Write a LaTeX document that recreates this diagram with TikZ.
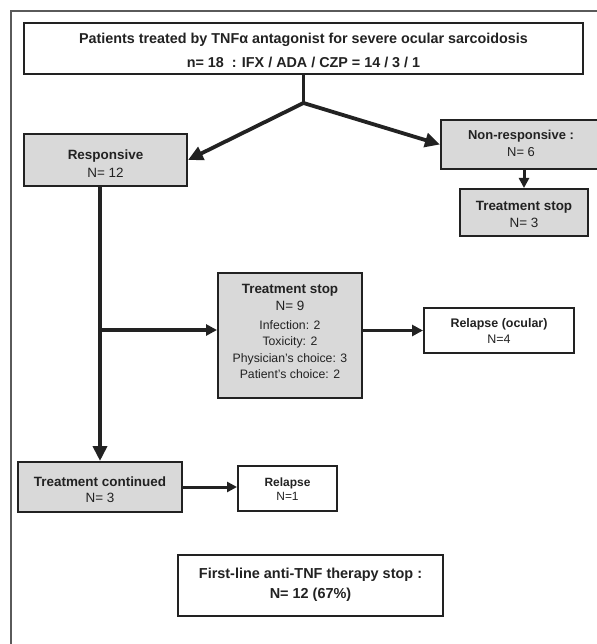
\documentclass[tikz,border=0pt]{standalone}
\usepackage{fontspec}
\setmainfont{Liberation Sans}
\usetikzlibrary{arrows.meta}
\definecolor{boxgray}{HTML}{D9D9D9}
\definecolor{ink}{HTML}{222222}
\definecolor{framegray}{HTML}{5A5A5A}
\begin{document}
\begin{tikzpicture}[x=1bp,y=-1bp,
  frame/.style={draw=ink, line width=2bp, inner sep=0pt},
  graybox/.style={frame, fill=boxgray},
  whitebox/.style={frame, fill=white},
  txt/.style={align=center, text=ink, inner sep=0pt},
  conn/.style={draw=ink, line width=3.8bp},
  arr/.style={conn, line width=3.4bp, -{Triangle[length=11bp,width=11bp]}},
  bigarr/.style={conn, -{Triangle[length=15bp,width=14bp]}},
  smallarr/.style={draw=ink, line width=3bp, -{Triangle[length=10bp,width=10bp]}},
]
\useasboundingbox (0,0) rectangle (597,644);
\draw[framegray, line width=1.5bp] (597,11) -- (11,11) -- (11,644);

% boxes
\node[whitebox, line width=2.5bp, minimum width=559bp, minimum height=51bp] (top) at (303.5,48.5) {};
\node[graybox, minimum width=163bp, minimum height=52bp] (resp) at (105.5,160) {};
\node[graybox, minimum width=160bp, minimum height=49bp] (nonresp) at (521,144.5) {};
\node[graybox, minimum width=128bp, minimum height=47bp] (ts2) at (524,212.5) {};
\node[graybox, minimum width=144bp, minimum height=125bp] (mid) at (290,335.5) {};
\node[whitebox, minimum width=150bp, minimum height=45bp] (ro) at (499,330.5) {};
\node[graybox, minimum width=164bp, minimum height=50bp] (tc) at (100,487) {};
\node[whitebox, minimum width=99bp, minimum height=45bp] (rel) at (287.5,488.5) {};
\node[whitebox, line width=2.5bp, minimum width=265bp, minimum height=61bp] (fl) at (310.5,585.5) {};

% texts
\node[txt, font=\fontsize{14.4}{24}\selectfont\bfseries] (toptext) at (303.5,50)
  {Patients treated by TNFα antagonist for severe ocular sarcoidosis\\ n= 18 \ : IFX / ADA / CZP = 14 / 3 / 1};
\node[txt, font=\fontsize{13.5}{18}\selectfont] (resptext) at (105.5,164)
  {\textbf{Responsive}\\ N= 12};
\node[txt, font=\fontsize{13}{17}\selectfont] (nonresptext) at (521,143.5)
  {\textbf{Non-responsive :}\\ N= 6};
\node[txt, font=\fontsize{13.5}{17}\selectfont] (ts2text) at (524,214.5)
  {\textbf{Treatment stop}\\ N= 3};
\node[txt, font=\fontsize{12.3}{16.5}\selectfont] (midtext) at (290,331.4)
  {{\fontsize{13.5}{17}\selectfont\textbf{Treatment stop}}\\[0.5bp]
   {\fontsize{13.5}{17}\selectfont N= 9}\\[2.5bp]
   Infection: 2\\ Toxicity: 2\\ Physician's choice: 3\\ Patient's choice: 2};
\node[txt, font=\fontsize{12.5}{16}\selectfont] (rotext) at (499,331)
  {\textbf{Relapse (ocular)}\\ N=4};
\node[txt, font=\fontsize{13.5}{16}\selectfont] (tctext) at (100,490)
  {\textbf{Treatment continued}\\ N= 3};
\node[txt, font=\fontsize{12}{14}\selectfont] (reltext) at (287.5,489)
  {\textbf{Relapse}\\ N=1};
\node[txt, font=\fontsize{14.5}{20}\selectfont\bfseries] (fltext) at (310.5,584.5)
  {First-line anti-TNF therapy stop :\\ N= 12 (67\%)};

% connectors
\coordinate (fork) at (top.south |- 0,103);
\coordinate (br) at (100,330);
\draw[conn] (top.south) -- (fork);
\draw[bigarr] (fork) -- (resp.east);
\draw[bigarr] (fork) -- (nonresp.west);
\draw[smallarr] (ts2.north |- nonresp.south) -- (ts2.north);
\draw[bigarr] (resp.south -| tc.north) -- (tc.north);
\draw[arr] (br) -- (br -| mid.west);
\draw[arr] (mid.east |- ro.west) -- (ro.west);
\draw[smallarr] (tc.east) -- (tc.east -| rel.west);
\end{tikzpicture}
\end{document}
